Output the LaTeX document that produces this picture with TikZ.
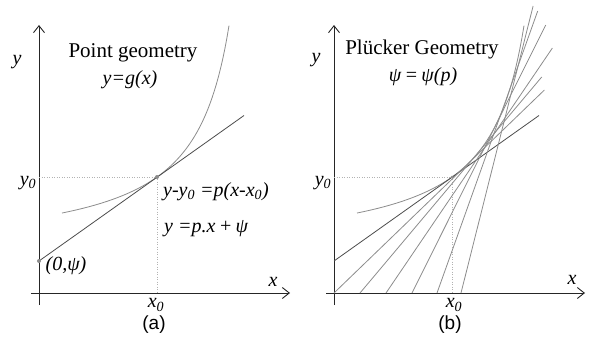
\documentclass[tikz,border=0pt]{standalone}
\usepackage{fontspec}
\setmainfont{Liberation Serif}
\newfontfamily\capfont{Liberation Sans}
\usetikzlibrary{arrows.meta}

\begin{document}
\begin{tikzpicture}[
    x=1pt, y=1pt,
    axisline/.style={line width=0.9pt, draw=black!85, -{Straight Barb[length=7pt, width=11pt]}},
    curve/.style={line width=0.8pt, draw=black!45},
    tline/.style={line width=0.8pt, draw=black!70},
    guide/.style={line width=0.5pt, draw=black!30, dotted},
    tdot/.style={circle, fill=black!45, inner sep=0pt, minimum size=4pt},
    mlabel/.style={font=\fontsize{20}{24}\selectfont\itshape, inner sep=0pt},
    ttl/.style={font=\fontsize{21}{25}\selectfont, inner sep=0pt},
    panelcap/.style={font=\capfont\fontsize{19}{22}\selectfont, inner sep=0pt},
]
\useasboundingbox (-39,-50) rectangle (554,293);

% Panel (a) -- point geometry
\draw[axisline] (-8,0) -- (251,0);
\draw[axisline] (0,-12) -- (0,268);
\draw[guide] (0,116) -- (118,116) -- (118,0);
\draw[curve] plot[domain=23:190, samples=80] (\x, {38.8+8389/(226.7-\x)});
\draw[tline] (0,32) -- (205,177.5);
\node[tdot] (tpA) at (118,116) {};
\node[tdot] (psiA) at (0,32) {};

\node[ttl] (ttlA) at (94,240) {Point geometry};
\node[mlabel] (eqA) at (91,213) {y=g(x)};
\node[mlabel] (yA) at (-22,231) {y};
\node[mlabel] (xA) at (234,11) {x};
\node[mlabel] (y0A) at (-11,110) {y\textsubscript{0}};
\node[mlabel] (x0A) at (117,-12) {x\textsubscript{0}};
\node[mlabel] (ptA) at (27,27) {(0,ψ)};
\node[mlabel, anchor=base west] (lineA) at (124,97) {y-y\textsubscript{0} =p(x-x\textsubscript{0})};
\node[mlabel, anchor=base west] (lineB) at (125,61) {y =p.x\,+\,ψ};
\node[panelcap] (capA) at (115,-32) {(a)};

% Panel (b) -- Pluecker geometry
\begin{scope}[xshift=295pt]
\draw[axisline] (-8,0) -- (251,0);
\draw[axisline] (0,-12) -- (0,268);
\draw[guide] (0,116) -- (118,116) -- (118,0);
\draw[curve] plot[domain=23:190, samples=80] (\x, {38.8+8389/(226.7-\x)});
\draw[tline] (0,32) -- (205,177.5);
% family of tangent lines (x-intercept / top end)
\foreach \xa/\xb/\yb in {0/210.4/203, 26/207.7/216, 52/218.4/245, 78/211.7/268, 103/203.7/282, 127/199.1/287}
    \draw[curve] (\xa,0) -- (\xb,\yb);
\node[tdot, minimum size=3pt] (tpB) at (118,116) {};

\node[ttl] (ttlB) at (88,244) {Plücker Geometry};
\node[mlabel] (eqB) at (89,216) {ψ\,=\,ψ(p)};
\node[mlabel] (yB) at (-18,233) {y};
\node[mlabel] (xB) at (238,13) {x};
\node[mlabel] (y0B) at (-11,110) {y\textsubscript{0}};
\node[mlabel] (x0B) at (120,-12) {x\textsubscript{0}};
\node[panelcap] (capB) at (116,-32) {(b)};
\end{scope}

\end{tikzpicture}
\end{document}
